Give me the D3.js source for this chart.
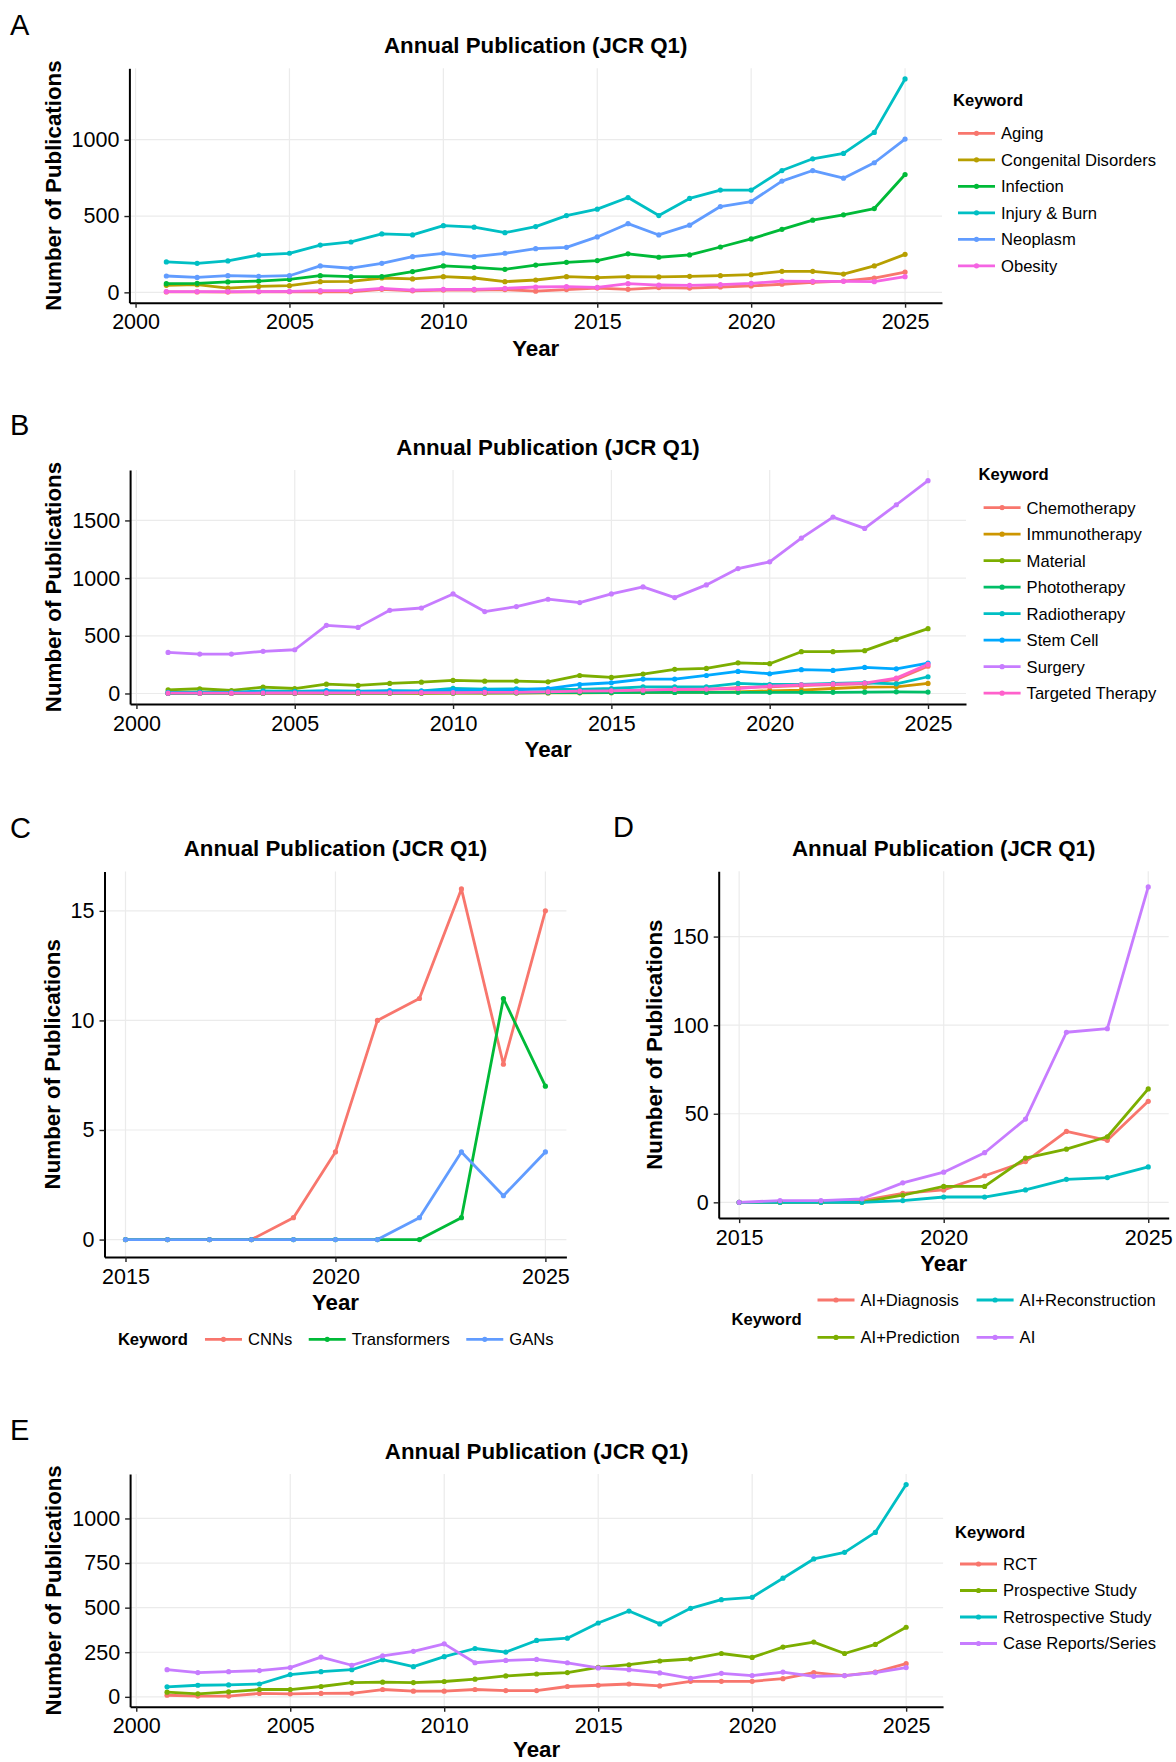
<!DOCTYPE html>
<html>
<head>
<meta charset="utf-8">
<script src="https://cdn.jsdelivr.net/npm/d3@7"></script>
<style>
  html, body { margin: 0; padding: 0; background: #fff; }
  svg { display: block; font-family: "Liberation Sans", Arial, Helvetica, sans-serif; }
</style>
</head>
<body>
<svg id="fig" width="1176" height="1762"></svg>
<script>
// ---------------- DATA ----------------
const yearsLong = [2001,2002,2003,2004,2005,2006,2007,2008,2009,2010,2011,2012,2013,2014,2015,2016,2017,2018,2019,2020,2021,2022,2023,2024,2025];
const yearsShort = [2015,2016,2017,2018,2019,2020,2021,2022,2023,2024,2025];
const ticksLong = [2000,2005,2010,2015,2020,2025];
const ticksShort = [2015,2020,2025];

// Panel A
const keywordsA = ["Aging","Congenital Disorders","Infection","Injury & Burn","Neoplasm","Obesity"];
const colorsA = ["#F8766D","#B79F00","#00BA38","#00BFC4","#619CFF","#F564E3"];
const agingA      = [3,3,2,4,4,3,4,20,10,15,15,18,8,18,28,20,31,28,35,42,53,66,74,94,133];
const congenitalA = [46,50,28,39,44,70,72,94,88,103,94,70,81,103,96,103,101,105,109,116,138,138,120,173,249];
const infectionA  = [57,59,68,74,85,109,103,103,136,173,164,151,179,197,208,252,230,245,297,350,413,473,508,549,772];
const injuryA     = [199,190,206,245,256,310,330,383,376,437,427,391,431,503,545,621,503,615,670,670,798,875,910,1048,1398];
const neoplasmA   = [107,98,109,105,109,173,158,190,234,256,234,256,286,295,363,450,376,440,562,595,729,798,748,849,1004];
const obesityA    = [5,5,5,5,6,11,11,26,15,20,20,26,35,37,33,57,48,46,50,59,74,72,72,70,103];
const yTicksA = [0,500,1000];

// Panel B
const keywordsB = ["Chemotherapy","Immunotherapy","Material","Phototherapy","Radiotherapy","Stem Cell","Surgery","Targeted Therapy"];
const colorsB = ["#F8766D","#CD9600","#7CAE00","#00BE67","#00BFC4","#00A9FF","#C77CFF","#FF61CC"];
const chemoB    = [2,1,2,3,2,4,3,5,4,6,5,8,10,16,20,26,30,36,50,58,68,76,84,122,236];
const immunoB   = [1,1,1,1,1,2,2,2,2,3,3,4,5,6,7,8,9,10,14,23,29,43,55,58,87];
const materialB = [32,41,26,55,43,81,70,87,98,113,107,107,101,156,139,168,209,217,266,258,362,362,371,469,562];
const photoB    = [2,2,2,3,3,3,4,4,5,5,6,6,7,8,8,9,9,9,10,10,10,10,11,14,12];
const radioB    = [10,12,10,22,18,24,20,25,22,45,38,40,35,35,43,58,58,58,87,78,78,87,93,84,145];
const stemB     = [5,6,8,12,12,18,15,20,18,30,28,32,43,78,93,125,125,156,191,171,206,200,226,214,264];
const surgeryB  = [356,342,342,365,379,591,573,721,741,863,710,753,817,788,863,924,831,941,1083,1141,1347,1529,1431,1636,1845];
const targetedB = [3,3,3,4,4,5,5,6,7,8,9,10,14,20,23,29,35,38,43,64,75,81,90,133,252];
const yTicksB = [0,500,1000,1500];

// Panel C
const keywordsC = ["CNNs","Transformers","GANs"];
const colorsC = ["#F8766D","#00BA38","#619CFF"];
const cnnsC         = [0,0,0,0,1,4,10,11,16,8,15];
const transformersC = [0,0,0,0,0,0,0,0,1,11,7];
const gansC         = [0,0,0,0,0,0,0,1,4,2,4];
const yTicksC = [0,5,10,15];

// Panel D
const keywordsD = ["AI+Diagnosis","AI+Prediction","AI+Reconstruction","AI"];
const colorsD = ["#F8766D","#7CAE00","#00BFC4","#C77CFF"];
const diagnosisD      = [0,0,0,1,5,7,15,23,40,35,57];
const predictionD     = [0,0,0,0,4,9,9,25,30,37,64];
const reconstructionD = [0,0,0,0,1,3,3,7,13,14,20];
const aiD             = [0,1,1,2,11,17,28,47,96,98,178];
const yTicksD = [0,50,100,150];

// Panel E
const keywordsE = ["RCT","Prospective Study","Retrospective Study","Case Reports/Series"];
const colorsE = ["#F8766D","#7CAE00","#00BFC4","#C77CFF"];
const rctE         = [9,4,4,19,17,19,20,41,32,32,41,35,35,58,65,72,61,87,87,87,102,136,119,139,186];
const prospectiveE = [26,17,28,41,41,58,80,82,80,86,99,117,128,136,165,180,201,212,243,221,279,307,243,294,390];
const retroE       = [56,65,67,72,125,141,152,208,169,225,271,251,316,329,414,481,409,496,545,558,665,773,810,922,1190];
const caseE        = [152,136,141,147,164,223,177,230,255,297,191,204,210,191,162,152,134,104,132,119,139,115,119,136,164];
const yTicksE = [0,250,500,750,1000];

const titleText = "Annual Publication (JCR Q1)";
const xTitle = "Year";
const yTitle = "Number of Publications";
const legendTitle = "Keyword";

// ---------------- DRAWING ----------------
const svg = d3.select("#fig");
svg.append("rect").attr("width",1176).attr("height",1762).attr("fill","#fff");

const TICK_FS = 21.5, TITLE_FS = 22.3, AXT_FS = 22.3, LEG_FS = 16.6, LW = 2.8, PR = 2.6;

function drawPanel(cfg) {
  const g = svg.append("g");
  const all = cfg.series.flat();
  const [mn, mx] = d3.extent(all);
  const yp = (mx - mn) * 0.05;
  const y = d3.scaleLinear().domain([mn - yp, mx + yp]).range([cfg.bottom, cfg.top]);
  const [x0, x1] = d3.extent(cfg.years);
  const xp = (x1 - x0) * 0.05;
  const x = d3.scaleLinear().domain([x0 - xp, x1 + xp]).range([cfg.left, cfg.right]);

  // grid
  g.append("g").selectAll("line").data(cfg.xTicks).join("line")
    .attr("x1", d => x(d)).attr("x2", d => x(d))
    .attr("y1", cfg.top).attr("y2", cfg.bottom)
    .attr("stroke", "#ebebeb").attr("stroke-width", 1.2);
  g.append("g").selectAll("line").data(cfg.yTicks).join("line")
    .attr("y1", d => y(d)).attr("y2", d => y(d))
    .attr("x1", cfg.left).attr("x2", cfg.right)
    .attr("stroke", "#ebebeb").attr("stroke-width", 1.2);

  // lines
  const line = d3.line().x((d, i) => x(cfg.years[i])).y(d => y(d));
  cfg.series.forEach((s, k) => {
    g.append("path").datum(s).attr("d", line)
      .attr("fill", "none").attr("stroke", cfg.colors[k])
      .attr("stroke-width", LW).attr("stroke-linejoin", "round").attr("stroke-linecap", "butt");
  });
  cfg.series.forEach((s, k) => {
    g.append("g").selectAll("circle").data(s).join("circle")
      .attr("cx", (d, i) => x(cfg.years[i])).attr("cy", d => y(d))
      .attr("r", PR).attr("fill", cfg.colors[k]);
  });

  // axes
  const ax = g.append("g").attr("transform", `translate(0,${cfg.bottom})`)
    .call(d3.axisBottom(x).tickValues(cfg.xTicks).tickFormat(d3.format("d")).tickSize(5).tickSizeOuter(0).tickPadding(6.5));
  const ay = g.append("g").attr("transform", `translate(${cfg.left},0)`)
    .call(d3.axisLeft(y).tickValues(cfg.yTicks).tickFormat(d3.format("d")).tickSize(5).tickSizeOuter(0).tickPadding(5));
  [ax, ay].forEach(a => {
    a.select(".domain").attr("stroke", "#000").attr("stroke-width", 2);
    a.selectAll(".tick line").attr("stroke", "#222").attr("stroke-width", 1.4);
    a.selectAll(".tick text").attr("font-size", TICK_FS).attr("fill", "#000")
      .attr("font-family", "Liberation Sans, Arial, sans-serif");
  });

  const cx = (cfg.left + cfg.right) / 2;
  // title
  g.append("text").attr("x", cx).attr("y", cfg.top - 15.5).attr("text-anchor", "middle")
    .attr("font-size", TITLE_FS).attr("font-weight", "bold").text(titleText);
  // x title
  g.append("text").attr("x", cx).attr("y", cfg.bottom + (cfg.xTitleOff || 45.5)).attr("dy", "0.35em").attr("text-anchor", "middle")
    .attr("font-size", AXT_FS).attr("font-weight", "bold").text(xTitle);
  // y title
  g.append("text").attr("transform", `translate(${cfg.yTitleX},${(cfg.top + cfg.bottom) / 2}) rotate(-90)`)
    .attr("dy", "0.35em").attr("text-anchor", "middle")
    .attr("font-size", AXT_FS).attr("font-weight", "bold").text(yTitle);
  // panel letter
  g.append("text").attr("x", cfg.letterX).attr("y", cfg.letterY).attr("font-size", 29).text(cfg.letter);

  // legend
  const L = cfg.legend;
  const keyItem = (gg, kx, ky, col, label) => {
    gg.append("line").attr("x1", kx).attr("x2", kx + 37).attr("y1", ky).attr("y2", ky)
      .attr("stroke", col).attr("stroke-width", LW);
    gg.append("circle").attr("cx", kx + 18.5).attr("cy", ky).attr("r", PR).attr("fill", col);
    return gg.append("text").attr("x", kx + 43).attr("y", ky).attr("dy", "0.35em")
      .attr("font-size", LEG_FS).text(label);
  };
  const lg = g.append("g");
  if (L.type === "vertical") {
    lg.append("text").attr("x", L.x - 5).attr("y", L.titleY).attr("font-size", LEG_FS)
      .attr("font-weight", "bold").text(legendTitle);
    cfg.keywords.forEach((k, i) => keyItem(lg, L.x, L.firstY + i * 26.5, cfg.colors[i], k));
  } else if (L.type === "row") {
    const t = lg.append("text").attr("x", L.x).attr("y", L.y).attr("dy", "0.35em").attr("font-size", LEG_FS)
      .attr("font-weight", "bold").text(legendTitle);
    let px = L.x + t.node().getComputedTextLength() + 17;
    cfg.keywords.forEach((k, i) => {
      const tt = keyItem(lg, px, L.y, cfg.colors[i], k);
      px = px + 43 + tt.node().getComputedTextLength() + 16.5;
    });
  } else if (L.type === "grid") {
    lg.append("text").attr("x", L.x).attr("y", L.y).attr("dy", "0.35em").attr("font-size", LEG_FS)
      .attr("font-weight", "bold").text(legendTitle);
    cfg.keywords.forEach((k, i) => {
      const col = Math.floor(i / 2), row = i % 2;
      keyItem(lg, L.colX[col], L.rowY[row], cfg.colors[i], k);
    });
  }
}

drawPanel({
  letter: "A", letterX: 10, letterY: 35,
  years: yearsLong, xTicks: ticksLong, yTicks: yTicksA,
  series: [agingA, congenitalA, infectionA, injuryA, neoplasmA, obesityA],
  keywords: keywordsA, colors: colorsA,
  left: 129.4, right: 942, top: 68.3, bottom: 302.7, yTitleX: 52.7,
  legend: { type: "vertical", x: 958, titleY: 106, firstY: 133.3 }
});

drawPanel({
  letter: "B", letterX: 10, letterY: 435,
  years: yearsLong, xTicks: ticksLong, yTicks: yTicksB,
  series: [chemoB, immunoB, materialB, photoB, radioB, stemB, surgeryB, targetedB],
  keywords: keywordsB, colors: colorsB,
  left: 130.1, right: 966, top: 470, bottom: 704, yTitleX: 52.7,
  legend: { type: "vertical", x: 983.6, titleY: 480, firstY: 507.7 }
});

drawPanel({
  letter: "C", letterX: 10, letterY: 837.5,
  years: yearsShort, xTicks: ticksShort, yTicks: yTicksC,
  series: [cnnsC, transformersC, gansC],
  keywords: keywordsC, colors: colorsC,
  left: 104.5, right: 566.4, top: 871.4, bottom: 1257.1, yTitleX: 51.7,
  legend: { type: "row", x: 117.9, y: 1339.3 }
});

drawPanel({
  letter: "D", letterX: 613, letterY: 837,
  years: yearsShort, xTicks: ticksShort, yTicks: yTicksD,
  series: [diagnosisD, predictionD, reconstructionD, aiD],
  keywords: keywordsD, colors: colorsD,
  left: 718.7, right: 1168.7, top: 871.2, bottom: 1218.1, yTitleX: 654,
  legend: { type: "grid", x: 731.5, y: 1318.9, colX: [817.5, 976.6], rowY: [1300, 1337.4] }
});

drawPanel({
  letter: "E", letterX: 10, letterY: 1440,
  years: yearsLong, xTicks: ticksLong, yTicks: yTicksE,
  series: [rctE, prospectiveE, retroE, caseE],
  keywords: keywordsE, colors: colorsE,
  left: 130.1, right: 943.1, top: 1474, bottom: 1706.7, yTitleX: 52.7, xTitleOff: 42.5,
  legend: { type: "vertical", x: 960, titleY: 1538, firstY: 1564 }
});
</script>
</body>
</html>
